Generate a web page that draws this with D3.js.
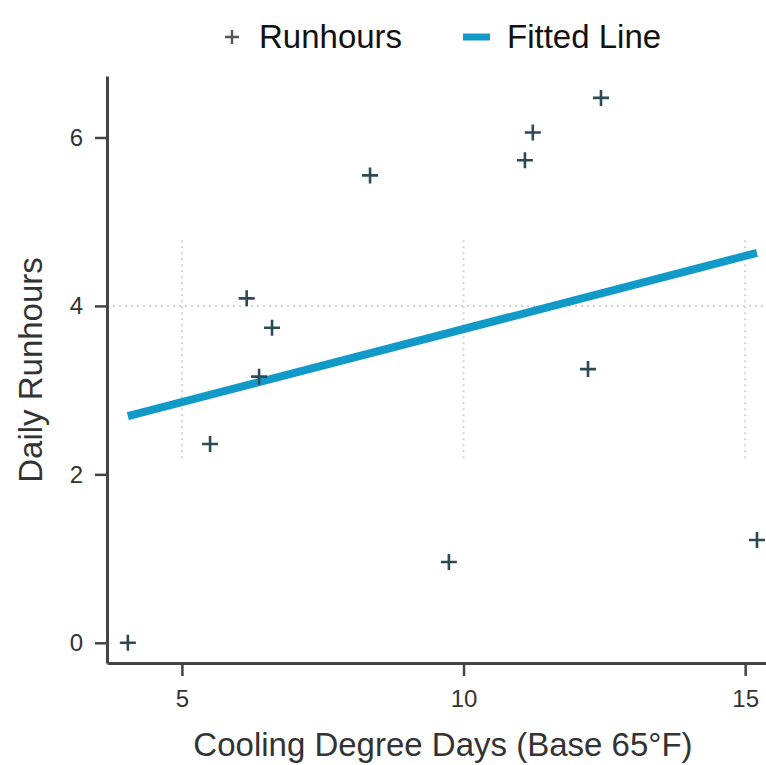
<!DOCTYPE html>
<html>
<head>
<meta charset="utf-8">
<script src="https://cdn.jsdelivr.net/npm/d3@7"></script>
<style>
  html, body { margin: 0; padding: 0; background: #fff; }
  svg { display: block; font-family: "Liberation Sans", Arial, sans-serif; }
</style>
</head>
<body>
<svg id="chart" width="766" height="765"></svg>
<script>
// ---- data ----
const cdd      = [4.04, 5.50, 6.15, 6.37, 6.60, 8.34, 9.74, 11.09, 11.23, 12.44, 12.21, 15.21];
const runhours = [0.00, 2.36, 4.09, 3.16, 3.74, 5.55, 0.96, 5.73, 6.06, 6.47, 3.25, 1.22];
const fitX = [4.04, 15.21];
const fitY = [2.69, 4.63];
const xTicks = [5, 10, 15];
const yTicks = [0, 2, 4, 6];
const legendLabels = ["Runhours", "Fitted Line"];
const xTitle = "Cooling Degree Days (Base 65°F)";
const yTitle = "Daily Runhours";

const svg = d3.select("#chart");
const x = d3.scaleLinear().domain([3.67, 15.37]).range([107, 766]);
const y = d3.scaleLinear().domain([-0.24, 6.73]).range([663, 76]);

const axisColor = "#444";
const textColor = "#333";
const markerColor = "#2b4a55";
const lineColor = "#119ac8";

// gridlines (faint dotted)
const grid = svg.append("g");
grid.selectAll("line.gx").data(xTicks).join("line")
  .attr("x1", d => x(d)).attr("x2", d => x(d))
  .attr("y1", y(4.78)).attr("y2", y(2.17))
  .attr("stroke", "#d2d2d2").attr("stroke-width", 2).attr("stroke-dasharray", "2,4");
grid.selectAll("line.gy").data([4]).join("line")
  .attr("x1", x.range()[0]).attr("x2", x.range()[1])
  .attr("y1", d => y(d)).attr("y2", d => y(d))
  .attr("stroke", "#d2d2d2").attr("stroke-width", 2).attr("stroke-dasharray", "2,4");

// axes
const xAxis = d3.axisBottom(x).tickValues(xTicks).tickFormat(d3.format("d"))
  .tickSize(13).tickPadding(14).tickSizeOuter(0);
const yAxis = d3.axisLeft(y).tickValues(yTicks).tickFormat(d3.format("d"))
  .tickSize(12).tickPadding(12).tickSizeOuter(0);

const gx = svg.append("g").attr("transform", `translate(0,${y.range()[0]})`).call(xAxis);
const gy = svg.append("g").attr("transform", `translate(${x.range()[0]},0)`).call(yAxis);
[gx, gy].forEach(g => {
  g.attr("font-size", 24).attr("font-family", "'Liberation Sans', Arial, sans-serif");
  g.select(".domain").attr("stroke", axisColor).attr("stroke-width", 3);
  g.selectAll(".tick line").attr("stroke", axisColor).attr("stroke-width", 2.5);
  g.selectAll(".tick text").attr("fill", textColor);
});

// fitted line
const line = d3.line().x(d => x(d[0])).y(d => y(d[1]));
svg.append("path")
  .datum(fitX.map((v, i) => [v, fitY[i]]))
  .attr("d", line)
  .attr("fill", "none").attr("stroke", lineColor).attr("stroke-width", 8);

// markers
const m = 8;
svg.append("g").selectAll("path").data(cdd.map((v, i) => [v, runhours[i]])).join("path")
  .attr("d", d => `M${x(d[0]) - m},${y(d[1])}H${x(d[0]) + m}M${x(d[0])},${y(d[1]) - m}V${y(d[1]) + m}`)
  .attr("stroke", markerColor).attr("stroke-width", 2.6).attr("fill", "none");

// axis titles
svg.append("text").attr("x", 443).attr("y", 756).attr("text-anchor", "middle")
  .attr("font-size", 33).attr("fill", textColor).text(xTitle);
svg.append("text").attr("transform", `translate(30,370) rotate(-90)`)
  .attr("text-anchor", "middle").attr("dominant-baseline", "central")
  .attr("font-size", 33).attr("fill", textColor).text(yTitle);

// legend
const lg = svg.append("g");
lg.append("path").attr("d", `M225,37H239M232,30V44`).attr("stroke", "#555").attr("stroke-width", 2.4);
lg.append("text").attr("x", 259).attr("y", 48).attr("font-size", 33).attr("fill", "#111").text(legendLabels[0]);
lg.append("line").attr("x1", 463).attr("x2", 490).attr("y1", 37).attr("y2", 37)
  .attr("stroke", lineColor).attr("stroke-width", 7);
lg.append("text").attr("x", 507).attr("y", 48).attr("font-size", 33).attr("fill", "#111").text(legendLabels[1]);
</script>
</body>
</html>
